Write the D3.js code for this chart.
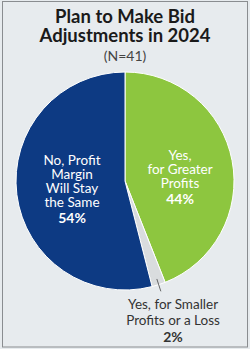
<!DOCTYPE html>
<html><head><meta charset="utf-8">
<script src="https://cdn.jsdelivr.net/npm/d3@7"></script>
<style>html,body{margin:0;padding:0;background:#fff;}svg{display:block;}</style>
</head><body>
<svg id="c" width="250" height="349"></svg>
<script>
const categories = ["Yes, for Greater Profits", "Yes, for Smaller Profits or a Loss", "No, Profit Margin Will Stay the Same"];
const values = [44, 2, 54];
const colors = ["#8dc63f", "#d9dcde", "#0d3a83"];
const titleLines = ["Plan to Make Bid", "Adjustments in 2024"];
const subtitle = "(N=41)";

const svg = d3.select("#c");
svg.append("rect").attr("x",0).attr("y",0).attr("width",250).attr("height",349).attr("fill","#e7ebee");
svg.append("rect").attr("x",2.5).attr("y",1.5).attr("width",245).attr("height",345.5).attr("fill","none").attr("stroke","#8a8d90").attr("stroke-width",1);

const font = "Lato, 'Noto Sans', sans-serif";
svg.selectAll("text.title").data(titleLines).join("text")
  .attr("x",125).attr("y",(d,i)=>22.5+i*19).attr("text-anchor","middle")
  .attr("font-family",font).attr("font-weight","bold").attr("font-size",18.5).attr("fill","#1a1a1a").text(d=>d);
svg.append("text").attr("x",125).attr("y",61).attr("text-anchor","middle")
  .attr("font-family",font).attr("font-size",14).attr("fill","#444").text(subtitle);

const cx = 125, cy = 181, r = 109;
const pie = d3.pie().sort(null).value(d=>d);
const arcs = pie(values);
const arc = d3.arc().innerRadius(0).outerRadius(r);
const g = svg.append("g").attr("transform",`translate(${cx},${cy})`);
g.selectAll("path").data(arcs).join("path").attr("d",arc)
  .attr("fill",(d,i)=>colors[i]).attr("stroke","#ffffff").attr("stroke-width",1);

// leader line for the small slice
const a = arcs[1];
const mid = (a.startAngle + a.endAngle)/2;
const p1 = [Math.sin(mid)*(r-6), -Math.cos(mid)*(r-6)];
const p2 = [Math.sin(mid)*(r+7), -Math.cos(mid)*(r+7)];
g.append("line").attr("x1",p1[0]).attr("y1",p1[1]).attr("x2",p2[0]).attr("y2",p2[1])
  .attr("stroke","#444").attr("stroke-width",0.8);

function label(lines, pct, x, y0, step, color){
  const t = svg.append("text").attr("text-anchor","middle").attr("font-family",font)
    .attr("font-size",13.5).attr("fill",color);
  lines.forEach((l,i)=>t.append("tspan").attr("x",x).attr("y",y0+i*step).text(l));
  t.append("tspan").attr("x",x).attr("y",y0+lines.length*step+2).attr("font-weight","bold").attr("font-size",14).text(pct);
}
label(["No, Profit","Margin","Will Stay","the Same"], values[2]+"%", 72, 165, 14, "#ffffff");
label(["Yes,","for Greater","Profits"], values[0]+"%", 180, 160, 14, "#ffffff");
label(["Yes, for Smaller","Profits or a Loss"], values[1]+"%", 173, 309, 15.5, "#333333");
</script>
</body></html>
